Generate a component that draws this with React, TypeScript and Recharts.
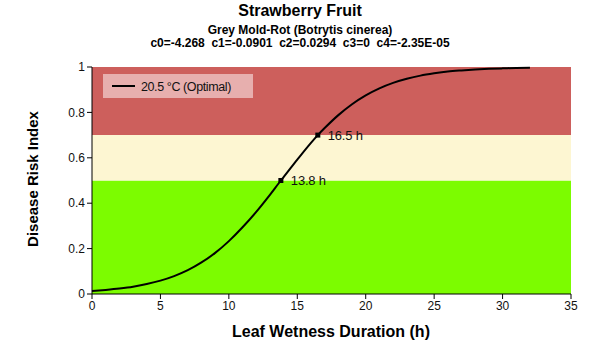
import { ComposedChart, Line, XAxis, YAxis, ReferenceArea } from "recharts";

const hours = [0, 1, 2, 3, 4, 5, 6, 7, 8, 9, 10, 11, 12, 13, 13.8, 14, 15, 16, 16.5, 17, 18, 19, 20, 21, 22, 23, 24, 25, 26, 27, 28, 29, 30, 31, 32];
const risk = [0.013, 0.018, 0.024, 0.032, 0.044, 0.059, 0.079, 0.105, 0.139, 0.181, 0.233, 0.294, 0.362, 0.437, 0.5, 0.515, 0.592, 0.666, 0.7, 0.731, 0.788, 0.836, 0.875, 0.906, 0.93, 0.948, 0.962, 0.972, 0.98, 0.985, 0.989, 0.992, 0.994, 0.996, 0.997];
const markedHours = [13.8, 16.5];

const xTicks = [0, 5, 10, 15, 20, 25, 30, 35];
const yTicks = [0, 0.2, 0.4, 0.6, 0.8, 1];

const bands = [
  { from: 0, to: 0.5, color: "#7cfc00" },
  { from: 0.5, to: 0.7, color: "#fdf6d2" },
  { from: 0.7, to: 1, color: "#cd5f5c" },
];

const data = hours.map((h, i) => ({ h, risk: risk[i], mark: markedHours.includes(h) }));

const FONT = "'Liberation Sans', Arial, sans-serif";

function MarkDot(props: any) {
  const { cx, cy, payload } = props;
  if (!payload.mark) return null;
  return (
    <g>
      <rect x={cx - 2.5} y={cy - 2.5} width={5} height={5} fill="#000" />
      <text x={cx + 10} y={cy + 4.5} fontSize={13} fontFamily={FONT} fill="#111" letterSpacing={-0.2}>
        {`${payload.h} h`}
      </text>
    </g>
  );
}

export default function App() {
  return (
    <div style={{ position: "absolute", left: 0, top: 0, width: 600, height: 360, background: "#fff", fontFamily: FONT }}>
      <ComposedChart width={600} height={360} data={data} margin={{ top: 67, right: 29, left: 0, bottom: 16 }}>
        {bands.map((b) => (
          <ReferenceArea key={b.from} x1={0} x2={35} y1={b.from} y2={b.to} fill={b.color} fillOpacity={1} stroke="none" />
        ))}
        <XAxis
          dataKey="h"
          type="number"
          domain={[0, 35]}
          ticks={xTicks}
          height={50}
          stroke="#000"
          tickSize={5}
          tick={{ fill: "#111", fontSize: 12, fontFamily: FONT }}
        />
        <YAxis
          type="number"
          domain={[0, 1]}
          ticks={yTicks}
          width={92}
          stroke="#000"
          tickSize={5}
          tick={{ fill: "#111", fontSize: 12, fontFamily: FONT }}
        />
        <Line
          type="monotone"
          dataKey="risk"
          stroke="#000"
          strokeWidth={2}
          dot={<MarkDot />}
          activeDot={false}
          isAnimationActive={false}
        />
      </ComposedChart>

      <svg width={600} height={360} style={{ position: "absolute", left: 0, top: 0, pointerEvents: "none" }}>
        <text x={300} y={16} textAnchor="middle" fontSize={16} fontWeight="bold" fontFamily={FONT} fill="#000">
          Strawberry Fruit
        </text>
        <text x={300} y={34} textAnchor="middle" fontSize={12} fontWeight="bold" fontFamily={FONT} fill="#000">
          Grey Mold-Rot (Botrytis cinerea)
        </text>
        <text x={300} y={47} textAnchor="middle" fontSize={12} fontWeight="bold" fontFamily={FONT} fill="#000" style={{ whiteSpace: "pre" }}>
          {"c0=-4.268  c1=-0.0901  c2=0.0294  c3=0  c4=-2.35E-05"}
        </text>
        <rect x={103} y={74} width={150} height={24} fill="#e7afae" />
        <line x1={112} x2={135} y1={86} y2={86} stroke="#000" strokeWidth={2} />
        <text x={141} y={90.5} fontSize={12.5} fontFamily={FONT} fill="#111" letterSpacing={-0.4}>20.5 °C (Optimal)</text>
        <text
          x={38}
          y={179}
          transform="rotate(-90 38 179)"
          textAnchor="middle"
          fontSize={15}
          fontWeight="bold"
          fontFamily={FONT}
          fill="#000"
        >
          Disease Risk Index
        </text>
        <text x={331} y={337} textAnchor="middle" fontSize={16} fontWeight="bold" fontFamily={FONT} fill="#000">
          Leaf Wetness Duration (h)
        </text>
      </svg>
    </div>
  );
}
